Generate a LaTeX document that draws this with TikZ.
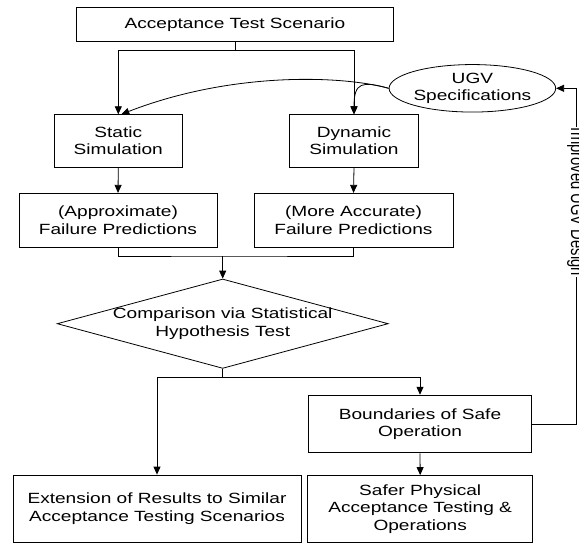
\documentclass[tikz,border=0pt]{standalone}
\usepackage{fontspec}
\setmainfont{Liberation Sans}[FakeStretch=1.29]
\newfontfamily\plainsans{Liberation Sans}
\usetikzlibrary{shapes.geometric,arrows.meta}
\begin{document}
\begin{tikzpicture}[x=1pt,y=-1pt,
  txt/.style={font=\fontsize{14.8}{17.2}\selectfont, align=center, inner sep=0pt},
  box/.style={txt, draw=black, line width=0.8pt},
  conn/.style={draw=black, line width=0.8pt},
  arr/.style={conn, -{Triangle[length=8pt,width=7pt]}}]
\useasboundingbox (0,0) rectangle (579,542);
% nodes
\node[box, minimum width=317pt, minimum height=33.7pt] (top) at (235,24.2) {Acceptance Test Scenario};
\node[box, minimum width=128pt, minimum height=52.6pt] (static) at (118.3,141) {Static\\Simulation};
\node[box, minimum width=129pt, minimum height=52.6pt] (dynamic) at (354,141) {Dynamic\\Simulation};
\node[box, ellipse, minimum width=160pt, minimum height=47.5pt] (ugv) at (472.4,88.3) {UGV\\Specifications};
\node[box, minimum width=198pt, minimum height=54pt] (approx) at (118,220.3) {(Approximate)\\Failure Predictions};
\node[box, minimum width=199pt, minimum height=54pt] (accurate) at (353.5,220.3) {(More Accurate)\\Failure Predictions};
\node[diamond, draw=black, line width=0.8pt, minimum width=331pt, minimum height=89.4pt, inner sep=0pt] (cmp) at (222.7,323.7) {};
\node[txt] (cmptext) at (222.7,323.7) {Comparison via Statistical\\Hypothesis Test};
\node[box, minimum width=223.5pt, minimum height=57.7pt] (bound) at (420,424) {Boundaries of Safe\\Operation};
\node[box, minimum width=288pt, minimum height=67.5pt] (ext) at (157,508.75) {Extension of Results to Similar\\Acceptance Testing Scenarios};
\node[box, minimum width=225pt, minimum height=67pt] (safer) at (420.2,509) {Safer Physical\\Acceptance Testing \&\\Operations};
% coordinates
\coordinate (b) at (235,50);
\coordinate (m) at (222.7,256);
\coordinate (c) at (222.7,377.3);
\coordinate (fbTop) at (576,88.3);
% connectors
\draw[conn] (top.south) -- (b);
\draw[arr] (b) -| (static.north);
\draw[arr] (b) -| (dynamic.north);
\draw[arr] (ugv.west) .. controls (340,75) and (230,72) .. ([xshift=3pt]static.north);
\draw[arr] (ugv.west) .. controls (362,81) and (354,82) .. (dynamic.north);
\draw[arr] (static.south) -- (approx.north);
\draw[arr] (dynamic.south) -- (accurate.north);
\draw[conn] (approx.south) |- (m) -| (accurate.south);
\draw[arr] (m) -- (cmp.north);
\draw[conn] (cmp.south) -- (c);
\draw[arr] (c) -| (ext.north);
\draw[arr] (c) -| (bound.north);
\draw[arr] (bound.south) -- (safer.north);
\draw[arr] (bound.east) -| (fbTop) -- (ugv.east);
\node[fill=white, inner sep=1pt, rotate=-90] (fblabel) at (576,202) {\scalebox{1}[1.29]{\plainsans\fontsize{14.8}{17.2}\selectfont Improved UGV Design}};
\end{tikzpicture}
\end{document}
